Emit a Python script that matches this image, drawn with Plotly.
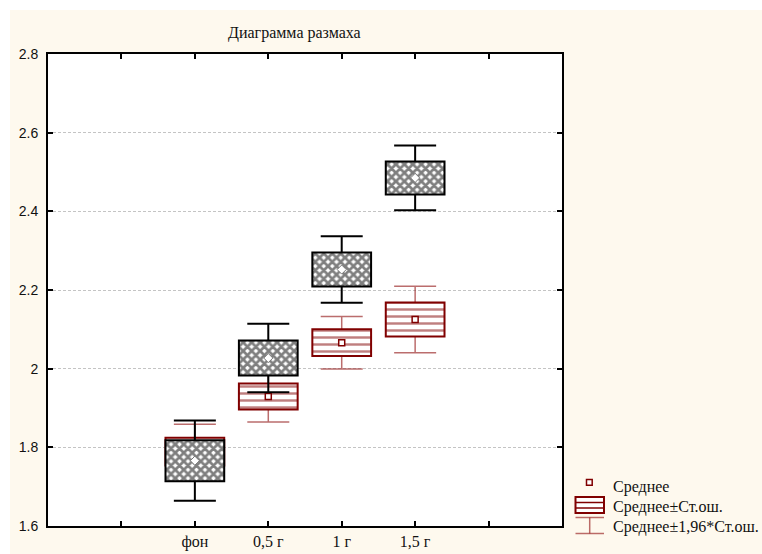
import plotly.graph_objects as go

# ---------------- data ----------------
categories = ["фон", "0,5 г", "1 г", "1,5 г"]
black_means = [1.766, 2.027, 2.252, 2.485]
black_se = [0.052, 0.0445, 0.0432, 0.042]
red_means = [1.789, 1.929, 2.066, 2.125]
red_se = [0.0354, 0.033, 0.034, 0.043]
y_ticks = [1.6, 1.8, 2.0, 2.2, 2.4, 2.6, 2.8]
legend_labels = ["Среднее", "Среднее±Ст.ош.", "Среднее±1,96*Ст.ош."]
title_text = "Диаграмма размаха"

# ---------------- styling ----------------
W, H = 762, 554
L, R, T, B = 48, 200, 54, 28
pw, ph = W - L - R, H - T - B
SERIF = "Liberation Serif, Times New Roman, serif"
SANS = "Liberation Sans, Arial, sans-serif"
CREAM = "#FEF9EE"
MAROON = "#800000"
LIGHTRED = "rgba(150,30,30,0.65)"
PAD = 2  # empty category slots on each side


def px(x):  # page pixel -> paper
    return (x - L) / pw


def py(y):
    return (H - B - y) / ph


x_pos = list(range(len(categories)))


def series(means, se, xa, ya, border, whisk_col, whisk_w, pattern, mean_marker):
    traces = []
    # whiskers: mean ± 1.96*SE (drawn first, the box covers the middle part)
    traces.append(go.Bar(
        x=x_pos, y=means, width=0.8, xaxis=xa, yaxis=ya,
        marker=dict(color="rgba(0,0,0,0)", line=dict(width=0)),
        error_y=dict(type="data", symmetric=True, array=[1.96 * s for s in se],
                     color=whisk_col, thickness=whisk_w, width=21),
        hoverinfo="skip", showlegend=False))
    # box: mean ± SE
    traces.append(go.Bar(
        x=x_pos, base=[m - s for m, s in zip(means, se)], y=[2 * s for s in se],
        width=0.8, xaxis=xa, yaxis=ya,
        marker=dict(color="white", line=dict(color=border, width=2), pattern=pattern),
        hoverinfo="skip", showlegend=False))
    # mean marker
    traces.append(go.Scatter(
        x=x_pos, y=means, mode="markers", xaxis=xa, yaxis=ya,
        marker=mean_marker, hoverinfo="skip", showlegend=False))
    return traces


fig = go.Figure()

# red series (bottom layer, main axes)
for t in series(red_means, red_se, "x", "y", MAROON, LIGHTRED, 1.5,
                dict(shape="-", fgcolor=MAROON, bgcolor="white", size=7, solidity=0.35,
                     fillmode="overlay"),
                dict(symbol="square", size=6, color="white", line=dict(color=MAROON, width=1.5))):
    fig.add_trace(t)

# black series (top layer, overlaying axes)
for t in series(black_means, black_se, "x2", "y2", "black", "black", 2,
                dict(shape="x", fgcolor="black", bgcolor="white", size=6, solidity=0.7,
                     fillmode="overlay"),
                dict(symbol="diamond", size=7, color="white", line=dict(color="#777", width=1))):
    fig.add_trace(t)

xrange = [-PAD, len(categories) - 1 + PAD]
tickvals = list(range(-PAD, len(categories) + PAD))
ticktext = [""] * PAD + categories + [""] * PAD
yrange = [y_ticks[0], y_ticks[-1]]

axis_common = dict(showline=True, linewidth=2, linecolor="black", mirror="ticks",
                   ticks="inside", ticklen=5, tickwidth=1.5, tickcolor="black",
                   zeroline=False, automargin=False)

fig.update_layout(
    width=W, height=H,
    margin=dict(l=L, r=R, t=T, b=B),
    paper_bgcolor=CREAM, plot_bgcolor="white",
    barmode="overlay", showlegend=False,
    xaxis=dict(range=xrange, tickmode="array", tickvals=tickvals, ticktext=ticktext,
               showgrid=False, tickfont=dict(family=SERIF, size=16, color="#111"),
               ticklabelstandoff=0, **axis_common),
    yaxis=dict(range=yrange, tickmode="array", tickvals=y_ticks,
               ticktext=[f"{v:g}" for v in y_ticks],
               showgrid=True, gridcolor="#c4c4c4", griddash="3px,2px", gridwidth=1,
               tickfont=dict(family=SANS, size=14, color="#111"),
               ticklabelstandoff=5, **axis_common),
    xaxis2=dict(range=xrange, overlaying="x", visible=False),
    yaxis2=dict(range=yrange, overlaying="y", visible=False),
)

shapes = [
    # thin white page edge above / left of the cream panel
    dict(type="rect", xref="paper", yref="paper", x0=px(0), x1=px(W), y0=py(10), y1=py(0),
         fillcolor="white", line=dict(width=0), layer="below"),
    dict(type="rect", xref="paper", yref="paper", x0=px(0), x1=px(10), y0=py(H), y1=py(0),
         fillcolor="white", line=dict(width=0), layer="below"),
    # legend glyph: mean
    dict(type="rect", xref="paper", yref="paper", x0=px(586.5), x1=px(592.2),
         y0=py(485.2), y1=py(479.5), fillcolor="white", line=dict(color=MAROON, width=1.5)),
    # legend glyph: mean ± SE
    dict(type="rect", xref="paper", yref="paper", x0=px(575.5), x1=px(604),
         y0=py(513), y1=py(497), fillcolor="white", line=dict(color=MAROON, width=2)),
    dict(type="line", xref="paper", yref="paper", x0=px(575.5), x1=px(604),
         y0=py(502.5), y1=py(502.5), line=dict(color=MAROON, width=1.5)),
    dict(type="line", xref="paper", yref="paper", x0=px(575.5), x1=px(604),
         y0=py(508), y1=py(508), line=dict(color=MAROON, width=1.5)),
    # legend glyph: mean ± 1.96 SE
    dict(type="line", xref="paper", yref="paper", x0=px(575.5), x1=px(604),
         y0=py(517.5), y1=py(517.5), line=dict(color=LIGHTRED, width=1.5)),
    dict(type="line", xref="paper", yref="paper", x0=px(575.5), x1=px(604),
         y0=py(533.5), y1=py(533.5), line=dict(color=LIGHTRED, width=1.5)),
    dict(type="line", xref="paper", yref="paper", x0=px(589.7), x1=px(589.7),
         y0=py(517.5), y1=py(533.5), line=dict(color=LIGHTRED, width=1.5)),
]

annotations = [
    dict(text=title_text, x=px(294), y=py(33), xref="paper", yref="paper",
         xanchor="center", yanchor="middle", showarrow=False,
         font=dict(family=SERIF, size=16, color="#111")),
]
for i, lab in enumerate(legend_labels):
    annotations.append(dict(text=lab, x=px(611), y=py(487 + 20 * i), xref="paper", yref="paper",
                            xanchor="left", yanchor="middle", showarrow=False,
                            font=dict(family=SERIF, size=16, color="#111")))

fig.update_layout(shapes=shapes, annotations=annotations)
fig.write_html(
    "out.html",
    config={"displayModeBar": False},
    post_script="document.body.style.margin='0';document.body.style.overflow='hidden';",
)
